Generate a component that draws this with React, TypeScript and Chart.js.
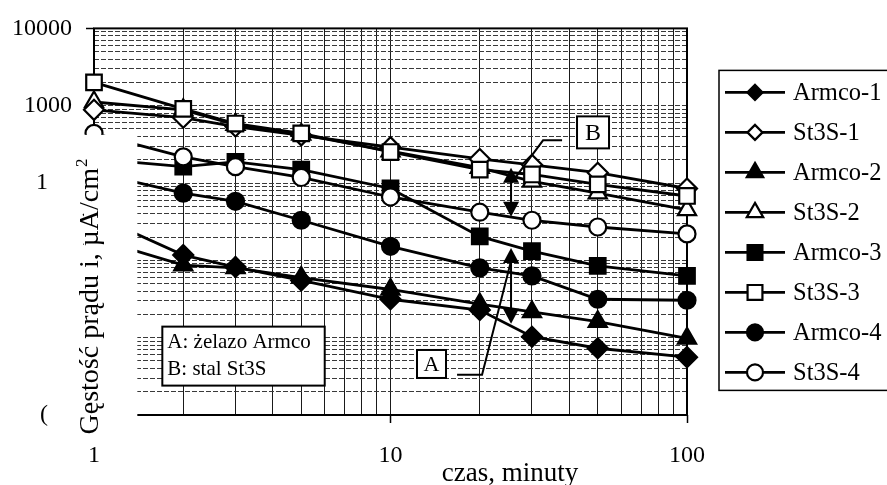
import React, { useEffect, useRef } from 'react';
import { Chart, registerables } from 'chart.js';
import { drawPoint } from 'chart.js/helpers';

Chart.register(...registerables);

const FONT = '"Liberation Serif", "Times New Roman", serif';

// ---- data (time in minutes, current density in µA/cm²) ----
const times = [1, 2, 3, 5, 10, 20, 30, 50, 100];
const armco1 = [38.8, 11.7, 8.2, 5.5, 3.14, 2.28, 1.03, 0.73, 0.56];
const st3s1 = [885, 700, 538, 414, 291, 205, 172, 136, 85];
const armco2 = [19.2, 8.7, 8.0, 6.0, 4.2, 2.72, 2.15, 1.61, 0.98];
const st3s2 = [1117, 885, 571, 426, 259, 158, 105, 74, 45];
const armco3 = [205, 163, 188, 149, 85, 20.4, 13.2, 8.5, 6.3];
const st3s3 = [2005, 911, 588, 439, 252, 149, 129, 96, 68];
const armco4 = [136, 74, 58, 33, 15.2, 8.0, 6.3, 3.14, 3.05];
const st3s4 = [439, 218, 163, 118, 66, 42, 33, 27, 22];

const seriesNames = ['Armco-1', 'St3S-1', 'Armco-2', 'St3S-2', 'Armco-3', 'St3S-3', 'Armco-4', 'St3S-4'];
const seriesValues = [armco1, st3s1, armco2, st3s2, armco3, st3s3, armco4, st3s4];
const seriesPointStyles = ['rectRot', 'rectRot', 'triangle', 'triangle', 'rect', 'rect', 'circle', 'circle'];
const seriesFilled = [true, false, true, false, true, false, true, false];

// ---- ticks ----
const xDecades = [1, 10, 100];
const xDecadeLabels = ['1', '10', '100'];
const yDecades = [0.1, 1, 10, 100, 1000, 10000];
const yDecadeLabels = ['(    ', '', '', '1    ', '1000', '10000'];
const minorMultipliers = [1, 2, 3, 4, 5, 6, 7, 8, 9];

// ---- texts ----
const xAxisTitle = 'czas, minuty';
const yAxisTitleMain = 'Gęstość prądu i, µA/cm';
const yAxisTitleSup = '2';
const noteLines = ['A: żelazo Armco', 'B: stal St3S'];
const labelA = 'A';
const labelB = 'B';

// ---- annotation placement (data coordinates) ----
const noteBox = { x0: 1.7, x1: 6.0, y0: 1.39, y1: 0.24 };
const boxA = { x: 13.75, y: 0.457, w: 29, h: 28 };
const boxB = { x: 48.2, y: 452, w: 32, h: 32 };
const arrowX = 25.5;
const arrowA = { top: 14.4, bottom: 1.51 };
const arrowB = { top: 158, bottom: 36.6 };
const leaderA = [[16.77, 0.331], [20.36, 0.331], [25.5, 9.8]];
const leaderB = [[37.9, 357], [32.7, 357], [25.5, 98.8]];
const scanGap = { xMax: 1.4, yTop: 420 };

const radiusByStyle: Record<string, number> = { rectRot: 10, triangle: 10.5, rect: 11, circle: 8.5 };
const legendRadiusByStyle: Record<string, number> = { rectRot: 7.5, triangle: 9.5, rect: 10.5, circle: 8 };

function logTicks(decades: number[]) {
  const out: number[] = [];
  for (let i = 0; i < decades.length - 1; i++) {
    for (const m of minorMultipliers) out.push(Number((decades[i] * m).toPrecision(6)));
  }
  out.push(decades[decades.length - 1]);
  return out;
}
const xTickValues = logTicks(xDecades);
const yTickValues = logTicks(yDecades);

function decadeIndex(v: number, decades: number[]) {
  return decades.findIndex((d) => Math.abs(d - v) / d < 1e-6);
}

function orderFor(i: number) {
  const style = seriesPointStyles[i];
  if (!seriesFilled[i] && (style === 'rect' || style === 'circle')) return 0;
  if (seriesFilled[i] && (style === 'rectRot' || style === 'circle')) return 1;
  return 2;
}

const framePlugin = {
  id: 'frameAndGap',
  beforeDatasetsDraw(chart: any) {
    const { ctx, chartArea } = chart;
    ctx.save();
    ctx.strokeStyle = '#000';
    ctx.lineWidth = 2;
    ctx.strokeRect(chartArea.left, chartArea.top, chartArea.right - chartArea.left, chartArea.bottom - chartArea.top);
    ctx.restore();
  },
  afterDatasetsDraw(chart: any) {
    const { ctx, chartArea, scales } = chart;
    const xs = scales.x;
    const ys = scales.y;
    const px = (v: number) => xs.getPixelForValue(v);
    const py = (v: number) => ys.getPixelForValue(v);
    ctx.save();
    // erased strip of the scan on the left of the plot
    ctx.fillStyle = '#fff';
    const gx0 = chartArea.left - 10;
    const gx1 = px(scanGap.xMax);
    const gy0 = py(scanGap.yTop);
    const gy1 = chartArea.bottom + 11;
    ctx.fillRect(gx0, gy0, gx1 - gx0, gy1 - gy0);

    ctx.strokeStyle = '#000';
    ctx.fillStyle = '#000';
    ctx.lineWidth = 2;

    // note box
    const l = px(noteBox.x0), r = px(noteBox.x1), t = py(noteBox.y0), b = py(noteBox.y1);
    ctx.fillStyle = '#fff';
    ctx.fillRect(l, t, r - l, b - t);
    ctx.strokeRect(l, t, r - l, b - t);
    ctx.fillStyle = '#000';
    ctx.font = `21px ${FONT}`;
    ctx.textAlign = 'left';
    ctx.textBaseline = 'middle';
    ctx.fillText(noteLines[0], l + 5, t + 16);
    ctx.fillText(noteLines[1], l + 5, t + 43);

    // small label boxes
    const drawLabelBox = (bx: any, text: string, size: number) => {
      const cx = px(bx.x), cy = py(bx.y);
      ctx.fillStyle = '#fff';
      ctx.fillRect(cx - bx.w / 2, cy - bx.h / 2, bx.w, bx.h);
      ctx.strokeRect(cx - bx.w / 2, cy - bx.h / 2, bx.w, bx.h);
      ctx.fillStyle = '#000';
      ctx.font = `${size}px ${FONT}`;
      ctx.textAlign = 'center';
      ctx.textBaseline = 'middle';
      ctx.fillText(text, cx, cy + 1);
    };
    drawLabelBox(boxA, labelA, 22);
    drawLabelBox(boxB, labelB, 24);

    // leaders
    const drawPoly = (pts: number[][]) => {
      ctx.beginPath();
      pts.forEach(([x, y], i) => {
        if (i === 0) ctx.moveTo(px(x), py(y));
        else ctx.lineTo(px(x), py(y));
      });
      ctx.stroke();
    };
    drawPoly(leaderA);
    drawPoly(leaderB);

    // double arrows
    const head = (x: number, tipY: number, dir: number) => {
      ctx.beginPath();
      ctx.moveTo(x, tipY);
      ctx.lineTo(x - 8, tipY + dir * 15);
      ctx.lineTo(x + 8, tipY + dir * 15);
      ctx.closePath();
      ctx.fill();
    };
    const drawArrow = (a: any) => {
      const x = px(arrowX);
      const yt = py(a.top), yb = py(a.bottom);
      ctx.beginPath();
      ctx.moveTo(x, yt + 14);
      ctx.lineTo(x, yb - 14);
      ctx.stroke();
      head(x, yt, 1);
      head(x, yb, -1);
    };
    ctx.fillStyle = '#000';
    drawArrow(arrowA);
    drawArrow(arrowB);
    ctx.restore();
  },
};

const legendAndTitlesPlugin = {
  id: 'legendAndTitles',
  afterDraw(chart: any) {
    const { ctx, chartArea } = chart;
    ctx.save();
    // legend
    const boxL = chartArea.right + 32;
    const boxT = chartArea.top + 42;
    const boxB = chartArea.top + 362;
    ctx.strokeStyle = '#000';
    ctx.lineWidth = 1.5;
    ctx.strokeRect(boxL, boxT, 300, boxB - boxT);
    seriesNames.forEach((name, i) => {
      const y = boxT + 22 + i * 40;
      ctx.strokeStyle = '#000';
      ctx.lineWidth = 2.8;
      ctx.beginPath();
      ctx.moveTo(boxL + 6, y);
      ctx.lineTo(boxL + 66, y);
      ctx.stroke();
      ctx.fillStyle = seriesFilled[i] ? '#000' : '#fff';
      ctx.lineWidth = 2.2;
      drawPoint(ctx, { pointStyle: seriesPointStyles[i] as any, radius: legendRadiusByStyle[seriesPointStyles[i]], rotation: 0, borderWidth: 2.2 } as any, boxL + 36, y);
      ctx.fillStyle = '#000';
      ctx.font = `24.5px ${FONT}`;
      ctx.textAlign = 'left';
      ctx.textBaseline = 'middle';
      ctx.fillText(name, boxL + 74, y + 1);
    });

    // x title
    ctx.fillStyle = '#000';
    ctx.font = `27px ${FONT}`;
    ctx.textAlign = 'center';
    ctx.textBaseline = 'alphabetic';
    ctx.fillText(xAxisTitle, chartArea.right - 177, chartArea.bottom + 66);

    // y title (rotated, with superscript)
    ctx.translate(chartArea.left + 4, chartArea.bottom - 118.5);
    ctx.rotate(-Math.PI / 2);
    ctx.font = `28px ${FONT}`;
    const wMain = ctx.measureText(yAxisTitleMain).width;
    ctx.font = `17px ${FONT}`;
    const wSup = ctx.measureText(yAxisTitleSup).width;
    const start = -(wMain + wSup + 1) / 2;
    ctx.textAlign = 'left';
    ctx.font = `28px ${FONT}`;
    ctx.fillText(yAxisTitleMain, start, 0);
    ctx.font = `17px ${FONT}`;
    ctx.fillText(yAxisTitleSup, start + wMain + 1, -11);
    ctx.restore();
  },
};

export default function App() {
  const canvasRef = useRef<HTMLCanvasElement | null>(null);

  useEffect(() => {
    document.body.style.margin = '0';
    const canvas = canvasRef.current;
    if (!canvas) return;
    const chart = new Chart(canvas, {
      type: 'line',
      data: {
        datasets: seriesNames.map((name, i) => ({
          label: name,
          data: times.map((t, j) => ({ x: t, y: seriesValues[i][j] })),
          borderColor: '#000',
          backgroundColor: seriesFilled[i] ? '#000' : '#fff',
          borderWidth: 2.8,
          pointStyle: seriesPointStyles[i] as any,
          pointRadius: radiusByStyle[seriesPointStyles[i]],
          pointHoverRadius: radiusByStyle[seriesPointStyles[i]],
          pointBorderWidth: 2.2,
          pointBorderColor: '#000',
          pointBackgroundColor: seriesFilled[i] ? '#000' : '#fff',
          tension: 0,
          clip: false as any,
          order: orderFor(i),
        })),
      },
      options: {
        animation: false,
        responsive: false,
        events: [],
        layout: { padding: { top: 21, right: 200, left: 0, bottom: 0 } },
        plugins: { legend: { display: false }, tooltip: { enabled: false } },
        scales: {
          x: {
            type: 'logarithmic',
            min: 1,
            max: 100,
            afterBuildTicks: (s: any) => {
              s.ticks = xTickValues.map((v) => ({ value: v }));
            },
            afterFit: (s: any) => {
              s.height = 70;
            },
            ticks: {
              autoSkip: false,
              maxRotation: 0,
              padding: 18,
              color: '#000',
              font: { family: FONT, size: 24 },
              callback: (v: any) => {
                const i = decadeIndex(Number(v), xDecades);
                return i >= 0 ? xDecadeLabels[i] : '';
              },
            },
            grid: {
              color: '#1a1a1a',
              lineWidth: 1,
              tickLength: 8,
              tickWidth: 1.5,
              tickColor: (c: any) => (c.tick && decadeIndex(c.tick.value, xDecades) >= 0 ? '#000' : 'rgba(0,0,0,0)'),
            },
            border: { display: false },
          },
          y: {
            type: 'logarithmic',
            min: 0.1,
            max: 10000,
            afterBuildTicks: (s: any) => {
              s.ticks = yTickValues.map((v) => ({ value: v }));
            },
            afterFit: (s: any) => {
              s.width = 94;
            },
            ticks: {
              autoSkip: false,
              padding: 14,
              color: '#000',
              font: { family: FONT, size: 24 },
              callback: (v: any) => {
                const i = decadeIndex(Number(v), yDecades);
                return i >= 0 ? yDecadeLabels[i] : '';
              },
            },
            grid: {
              color: '#3a3a3a',
              lineWidth: 1,
              tickLength: 8,
              tickWidth: 1.5,
              tickBorderDash: [],
              tickColor: (c: any) => (c.tick && decadeIndex(c.tick.value, yDecades) >= 0 ? '#000' : 'rgba(0,0,0,0)'),
            },
            border: { display: false, dash: [5, 2] },
          },
        },
      } as any,
      plugins: [framePlugin, legendAndTitlesPlugin],
    });
    return () => chart.destroy();
  }, []);

  return (
    <div style={{ width: 887, height: 485, background: '#fff' }}>
      <canvas ref={canvasRef} width={887} height={485} style={{ display: 'block' }} />
    </div>
  );
}
